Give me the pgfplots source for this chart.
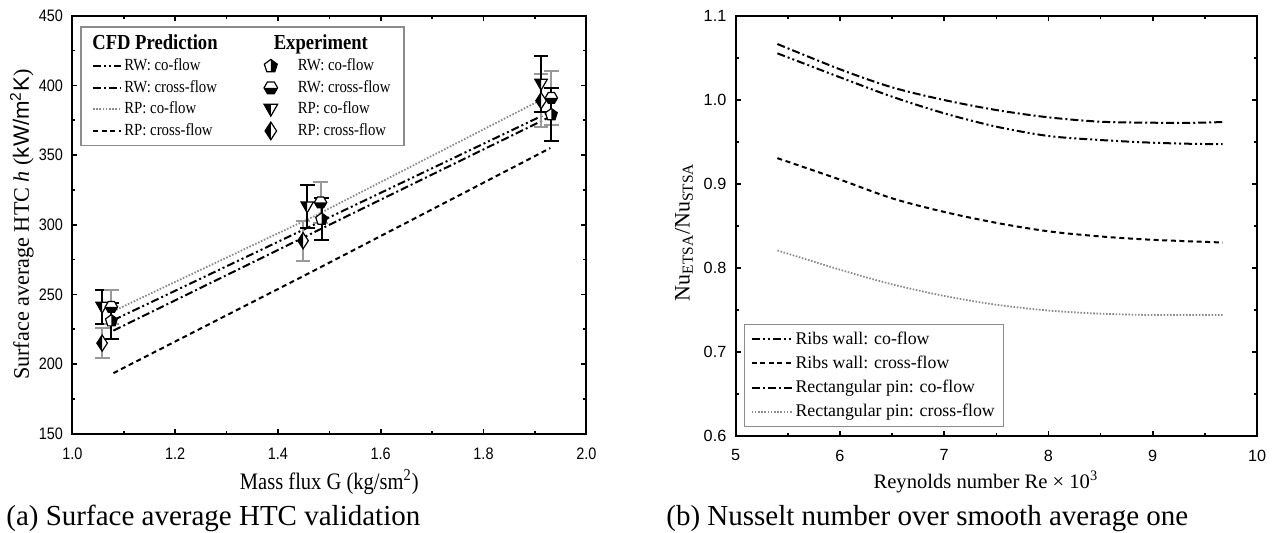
\documentclass[border=0pt]{standalone}
\usepackage{fontspec}
\setmainfont{Liberation Serif}
\setsansfont{Liberation Sans}
\newfontfamily\lserif{Liberation Serif}[FakeStretch=0.87]
\newfontfamily\lsans{Liberation Sans}[FakeStretch=0.87]
\usepackage{pgfplots}
\pgfplotsset{compat=1.18}

% half-filled marks used for the experimental points
\def\pentpath{%
  \pgfpathmoveto{\pgfqpoint{0pt}{\pgfplotmarksize}}%
  \pgfpathlineto{\pgfqpoint{.951\pgfplotmarksize}{.309\pgfplotmarksize}}%
  \pgfpathlineto{\pgfqpoint{.588\pgfplotmarksize}{-.809\pgfplotmarksize}}%
  \pgfpathlineto{\pgfqpoint{-.588\pgfplotmarksize}{-.809\pgfplotmarksize}}%
  \pgfpathlineto{\pgfqpoint{-.951\pgfplotmarksize}{.309\pgfplotmarksize}}%
  \pgfpathclose}
\pgfdeclareplotmark{pentR}{%
  \pentpath\pgfsetfillcolor{white}\pgfusepathqfill
  \pgfpathmoveto{\pgfqpoint{0pt}{\pgfplotmarksize}}%
  \pgfpathlineto{\pgfqpoint{.951\pgfplotmarksize}{.309\pgfplotmarksize}}%
  \pgfpathlineto{\pgfqpoint{.588\pgfplotmarksize}{-.809\pgfplotmarksize}}%
  \pgfpathlineto{\pgfqpoint{0pt}{-.809\pgfplotmarksize}}%
  \pgfpathclose\pgfsetfillcolor{black}\pgfusepathqfill
  \pentpath\pgfusepathqstroke}
\def\hexpath{%
  \pgfpathmoveto{\pgfqpoint{\pgfplotmarksize}{0pt}}%
  \pgfpathlineto{\pgfqpoint{.5\pgfplotmarksize}{.866\pgfplotmarksize}}%
  \pgfpathlineto{\pgfqpoint{-.5\pgfplotmarksize}{.866\pgfplotmarksize}}%
  \pgfpathlineto{\pgfqpoint{-\pgfplotmarksize}{0pt}}%
  \pgfpathlineto{\pgfqpoint{-.5\pgfplotmarksize}{-.866\pgfplotmarksize}}%
  \pgfpathlineto{\pgfqpoint{.5\pgfplotmarksize}{-.866\pgfplotmarksize}}%
  \pgfpathclose}
\pgfdeclareplotmark{hexB}{%
  \hexpath\pgfsetfillcolor{white}\pgfusepathqfill
  \pgfpathmoveto{\pgfqpoint{\pgfplotmarksize}{0pt}}%
  \pgfpathlineto{\pgfqpoint{-\pgfplotmarksize}{0pt}}%
  \pgfpathlineto{\pgfqpoint{-.5\pgfplotmarksize}{-.866\pgfplotmarksize}}%
  \pgfpathlineto{\pgfqpoint{.5\pgfplotmarksize}{-.866\pgfplotmarksize}}%
  \pgfpathclose\pgfsetfillcolor{black}\pgfusepathqfill
  \hexpath\pgfusepathqstroke}
\def\tripath{%
  \pgfpathmoveto{\pgfqpoint{-\pgfplotmarksize}{.75\pgfplotmarksize}}%
  \pgfpathlineto{\pgfqpoint{\pgfplotmarksize}{.75\pgfplotmarksize}}%
  \pgfpathlineto{\pgfqpoint{0pt}{-\pgfplotmarksize}}%
  \pgfpathclose}
\pgfdeclareplotmark{triL}{%
  \tripath\pgfsetfillcolor{white}\pgfusepathqfill
  \pgfpathmoveto{\pgfqpoint{-\pgfplotmarksize}{.75\pgfplotmarksize}}%
  \pgfpathlineto{\pgfqpoint{0pt}{.75\pgfplotmarksize}}%
  \pgfpathlineto{\pgfqpoint{0pt}{-\pgfplotmarksize}}%
  \pgfpathclose\pgfsetfillcolor{black}\pgfusepathqfill
  \tripath\pgfusepathqstroke}
\def\diapath{%
  \pgfpathmoveto{\pgfqpoint{0pt}{1.3\pgfplotmarksize}}%
  \pgfpathlineto{\pgfqpoint{-.85\pgfplotmarksize}{0pt}}%
  \pgfpathlineto{\pgfqpoint{0pt}{-1.3\pgfplotmarksize}}%
  \pgfpathlineto{\pgfqpoint{.85\pgfplotmarksize}{0pt}}%
  \pgfpathclose}
\pgfdeclareplotmark{diaL}{%
  \diapath\pgfsetfillcolor{white}\pgfusepathqfill
  \pgfpathmoveto{\pgfqpoint{0pt}{1.3\pgfplotmarksize}}%
  \pgfpathlineto{\pgfqpoint{-.85\pgfplotmarksize}{0pt}}%
  \pgfpathlineto{\pgfqpoint{0pt}{-1.3\pgfplotmarksize}}%
  \pgfpathclose\pgfsetfillcolor{black}\pgfusepathqfill
  \diapath\pgfusepathqstroke}

\tikzset{
  ddot/.style={dash pattern=on 4bp off 1.5bp on 1bp off 1.5bp on 1bp off 1.5bp},
  dsdot/.style={dash pattern=on 4bp off 1.5bp on 1bp off 1.5bp},
  shdash/.style={dash pattern=on 2.5bp off 1.8bp},
  fdot/.style={dash pattern=on 0.8bp off 0.8bp},
}
\colorlet{barg}{black!40}
\colorlet{dotg}{black!45}

\begin{document}
\begin{tikzpicture}
\useasboundingbox (0,0) rectangle (637bp,-266.5bp);

% (a) surface average HTC
\begin{axis}[
  at={(36.15bp,-216.85bp)}, anchor=south west,
  scale only axis, width=257bp, height=209bp,
  xmin=1, xmax=2, ymin=150, ymax=450,
  xtick={1,1.2,1.4,1.6,1.8,2}, ytick={150,200,...,450},
  minor x tick num=1, minor y tick num=1,
  tick pos=both, xticklabel pos=lower, yticklabel pos=left,
  tick align=inside,
  major tick length=2.5bp, minor tick length=1.5bp,
  every tick/.style={black, line width=0.8bp},
  axis line style={line width=1bp},
  /pgf/number format/assume math mode=true,
  tick label style={font=\lsans\fontsize{8.3bp}{9bp}\selectfont},
  xticklabel style={yshift=-3.5bp, /pgf/number format/.cd, fixed, fixed zerofill, precision=1},
  yticklabel style={xshift=-1.2bp},
  xlabel={Mass flux G (kg/sm\textsuperscript{2})},
  xlabel style={font=\lserif\fontsize{11.8bp}{13bp}\selectfont, at={(axis description cs:0.5,-0.1156)}, anchor=center},
  ylabel={Surface average HTC \textit{h} (\textsf{kW/m\textsuperscript{2}K})},
  ylabel style={font=\fontsize{11.1bp}{13bp}\selectfont, at={(axis description cs:-0.098,0.5)}, anchor=center},
  legend columns=2, legend cell align=left,
  legend image code/.code={\draw[#1] (0bp,0bp) -- (14bp,0bp);},
  legend style={at={(axis description cs:0.0156,0.9746)}, anchor=north west,
    draw=black!45, line width=0.6bp,
    font=\lserif\fontsize{8.5bp}{10bp}\selectfont,
    inner xsep=5.5bp, inner ysep=2.5bp, row sep=0.9bp,
    nodes={inner sep=1.2bp},
    /tikz/every even column/.append style={column sep=22bp}},
]
\addplot[black, line width=1bp, ddot, forget plot] coordinates {(1.08,231.5) (1.47,300) (1.93,381)};
\addplot[black, line width=1bp, dsdot, forget plot] coordinates {(1.08,224) (1.47,294.5) (1.93,377.5)};
\addplot[dotg, line width=0.9bp, fdot, forget plot] coordinates {(1.08,238) (1.47,306) (1.93,393)};
\addplot[black, line width=1bp, shdash, forget plot] coordinates {(1.08,193.5) (1.47,267) (1.93,355)};

\addplot[black, only marks, mark=diaL, mark size=3.1bp, mark options={line width=0.6bp}, forget plot,
  error bars/.cd, y dir=both, y explicit, error mark=|,
  error bar style={barg, line width=1bp},
  error mark options={barg, mark size=3.7bp, line width=1bp}]
  coordinates {(1.058,215) +- (0,11) (1.449,288.5) +- (0,14.5) (1.912,389) +- (0,19)};
\addplot[black, only marks, mark=triL, mark size=3.1bp, mark options={line width=0.6bp}, forget plot,
  error bars/.cd, y dir=both, y explicit, error mark=|,
  error bar style={black, line width=1bp},
  error mark options={black, mark size=3.7bp, line width=1bp}]
  coordinates {(1.058,241) +- (0,12) (1.457,313) +- (0,15.5) (1.912,401) +- (0,20)};
\addplot[black, only marks, mark=hexB, mark size=3.1bp, mark options={line width=0.6bp}, forget plot,
  error bars/.cd, y dir=both, y explicit, error mark=|,
  error bar style={barg, line width=1bp},
  error mark options={barg, mark size=3.7bp, line width=1bp}]
  coordinates {(1.076,241) +- (0,12) (1.483,316) +- (0,15) (1.932,391) +- (0,19.5)};
\addplot[black, only marks, mark=pentR, mark size=3.1bp, mark options={line width=0.6bp}, forget plot,
  error bars/.cd, y dir=both, y explicit, error mark=|,
  error bar style={black, line width=1bp},
  error mark options={black, mark size=3.7bp, line width=1bp}]
  coordinates {(1.076,231) +- (0,13) (1.485,304) +- (0,15) (1.932,379) +- (0,19)};

\addlegendimage{legend image code/.code={}}
\addlegendentry{\hspace*{-16bp}\fontsize{10.7bp}{12bp}\selectfont\bfseries CFD Prediction}
\addlegendimage{legend image code/.code={}}
\addlegendentry{\hspace*{-12bp}\fontsize{10.7bp}{12bp}\selectfont\bfseries Experiment}
\addlegendimage{black, line width=1bp, ddot}
\addlegendentry{RW: co-flow}
\addlegendimage{legend image code/.code={\path (0bp,0bp) (14bp,0bp); \draw[black, line width=0.6bp] plot[only marks, mark=pentR, mark size=3.4bp] coordinates {(2bp,0bp)};}}
\addlegendentry{RW: co-flow}
\addlegendimage{black, line width=1bp, dsdot}
\addlegendentry{RW: cross-flow}
\addlegendimage{legend image code/.code={\path (0bp,0bp) (14bp,0bp); \draw[black, line width=0.6bp] plot[only marks, mark=hexB, mark size=3.4bp] coordinates {(2bp,0bp)};}}
\addlegendentry{RW: cross-flow}
\addlegendimage{dotg, line width=0.9bp, fdot}
\addlegendentry{RP: co-flow}
\addlegendimage{legend image code/.code={\path (0bp,0bp) (14bp,0bp); \draw[black, line width=0.6bp] plot[only marks, mark=triL, mark size=3.4bp] coordinates {(2bp,0bp)};}}
\addlegendentry{RP: co-flow}
\addlegendimage{black, line width=1bp, shdash}
\addlegendentry{RP: cross-flow}
\addlegendimage{legend image code/.code={\path (0bp,0bp) (14bp,0bp); \draw[black, line width=0.6bp] plot[only marks, mark=diaL, mark size=3.4bp] coordinates {(2bp,0bp)};}}
\addlegendentry{RP: cross-flow}
\end{axis}

% (b) Nusselt ratio
\begin{axis}[
  at={(367.85bp,-217.85bp)}, anchor=south west,
  scale only axis, width=260.65bp, height=210bp,
  xmin=5, xmax=10, ymin=0.6, ymax=1.1,
  xtick={5,6,...,10}, ytick={0.6,0.7,0.8,0.9,1.0,1.1},
  minor x tick num=1, minor y tick num=1,
  tick pos=both, xticklabel pos=lower, yticklabel pos=left,
  tick align=inside,
  major tick length=2.5bp, minor tick length=1.5bp,
  every tick/.style={black, line width=0.8bp},
  axis line style={line width=1bp},
  /pgf/number format/assume math mode=true,
  tick label style={font=\sffamily\fontsize{8.1bp}{9bp}\selectfont},
  xticklabel style={yshift=-3.5bp},
  yticklabel style={xshift=-1.2bp, /pgf/number format/.cd, fixed, fixed zerofill, precision=1},
  xlabel={Reynolds number Re × 10\textsuperscript{3}},
  xlabel style={font=\fontsize{10.3bp}{12bp}\selectfont, at={(axis description cs:0.48,-0.110)}, anchor=center},
  ylabel={Nu\textsubscript{ETSA}/Nu\textsubscript{STSA}},
  ylabel style={font=\fontsize{11bp}{13bp}\selectfont, at={(axis description cs:-0.099,0.485)}, anchor=center},
  legend cell align=left,
  legend image code/.code={\draw[#1] (0bp,0bp) -- (20bp,0bp);},
  legend style={at={(axis description cs:0.0159,0.0207)}, anchor=south west,
    draw=black!45, line width=0.6bp,
    font=\fontsize{8.9bp}{10bp}\selectfont,
    inner xsep=3bp, inner ysep=2bp, row sep=1.3bp,
    nodes={inner sep=1.5bp}},
]
\addplot[black, line width=1bp, ddot, smooth] coordinates {
  (5.4,1.0552) (6.0,1.0267) (6.5,1.0036) (7.0,0.9838) (7.5,0.9679)
  (8.0,0.9568) (8.5,0.9520) (9.0,0.9488) (9.45,0.9473) (9.67,0.9472)};
\addlegendentry{Ribs wall: co-flow}
\addplot[black, line width=1bp, shdash, smooth] coordinates {
  (5.4,0.9304) (6.0,0.9049) (6.5,0.8826) (7.0,0.8664) (7.5,0.8534)
  (8.0,0.8433) (8.5,0.8372) (9.0,0.8332) (9.67,0.8300)};
\addlegendentry{Ribs wall: cross-flow}
\addplot[black, line width=1bp, dsdot, smooth] coordinates {
  (5.4,1.0663) (6.0,1.0362) (6.5,1.0147) (7.0,0.9996) (7.5,0.9877)
  (8.0,0.9790) (8.5,0.9738) (9.0,0.9726) (9.45,0.9726) (9.67,0.9735)};
\addlegendentry{Rectangular pin: co-flow}
\addplot[dotg, line width=0.9bp, fdot, smooth] coordinates {
  (5.4,0.8206) (6.0,0.7976) (6.5,0.7802) (7.0,0.7664) (7.5,0.7559)
  (8.0,0.7490) (8.5,0.7453) (9.0,0.7437) (9.67,0.7437)};
\addlegendentry{Rectangular pin: cross-flow}
\end{axis}

\node[anchor=base west, font=\fontsize{14.5bp}{16bp}\selectfont, inner sep=0pt] at (3bp,-262.5bp) {(a) Surface average HTC validation};
\node[anchor=base west, font=\fontsize{14.5bp}{16bp}\selectfont, inner sep=0pt] at (333bp,-262.5bp) {(b) Nusselt number over smooth average one};
\end{tikzpicture}
\end{document}
